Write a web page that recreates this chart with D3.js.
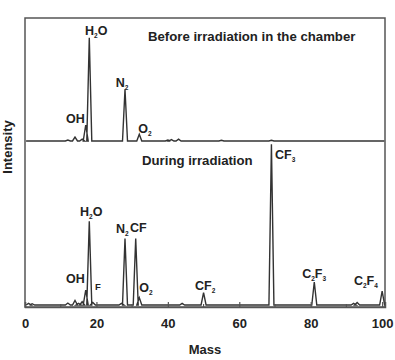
<!DOCTYPE html>
<html>
<head>
<meta charset="utf-8">
<script src="https://cdn.jsdelivr.net/npm/d3@7"></script>
<style>
  body { margin: 0; background: #fff; }
  text { font-family: Arial, "Liberation Sans", sans-serif; font-weight: bold; fill: #222; }
</style>
</head>
<body>
<svg width="395" height="360"></svg>
<script>
// peaks: mass / intensity (intensity in % of the panel height)
var beforeMass  = [12, 14, 16, 17, 18, 28, 32, 40, 41, 43, 55, 69];
var beforeInt   = [0.8, 3.2, 1.5, 13, 84, 42, 5.5, 0.8, 1.2, 1.5, 0.6, 0.6];

var duringMass  = [1, 2, 12, 14, 15, 16, 17, 18, 19, 27, 28, 31, 32, 44, 50, 69, 81, 92, 93, 100];
var duringInt   = [1.0, 0.8, 1.2, 2.8, 1.0, 2.0, 9.0, 51, 1.5, 1.0, 40.5, 40.5, 4.5, 1.0, 7.5, 98, 14, 1.0, 1.5, 8.5];

var xTicks      = [0, 20, 40, 60, 80, 100];
var xMinorTicks = [10, 30, 50, 70, 90];

// peak labels: [text, subscript, tail, tail subscript, mass, intensity]
var beforeLabels = [
  ["H", "2", "O", "", 16.8, 86],
  ["N", "2", "", "",  25.4, 44],
  ["OH", "", "", "",  11.5, 14.6],
  ["O", "2", "", "",  31.7, 6.5]
];
var duringLabels = [
  ["H", "2", "O", "", 15.4, 54.3],
  ["N", "2", "", "",  25.5, 44],
  ["CF", "", "", "",  29.4, 44.5],
  ["OH", "", "", "",  11.5, 13.4],
  ["O", "2", "", "",  32, 7.9],
  ["CF", "2", "", "", 47.6, 9.1],
  ["CF", "3", "", "", 70, 89],
  ["C", "2", "F", "3", 77.6, 16.5],
  ["C", "2", "F", "4", 92.1, 12.2]
];

var svg = d3.select("svg");
var L = 25, R = 385, T = 18, B = 307;

var x = d3.scaleLinear().domain([0, 100.8]).range([L, R]);
var yTop = d3.scaleLinear().domain([0, 100]).range([141, 18]);
var yBot = d3.scaleLinear().domain([0, 100]).range([305, 141]);

function spectrum(masses, ints, y) {
  var pts = [[x(0.3), y(0)]];
  var hw = 0.7;
  masses.forEach(function (m, i) {
    pts.push([x(m - hw), y(0)]);
    pts.push([x(m), y(ints[i])]);
    pts.push([x(m + hw), y(0)]);
  });
  pts.push([x(100.6), y(0)]);
  return d3.line()(pts);
}

// frame
svg.append("rect")
  .attr("x", L).attr("y", T).attr("width", R - L).attr("height", B - T)
  .attr("fill", "none").attr("stroke", "#555").attr("stroke-width", 1.5);

svg.append("path").attr("d", spectrum(beforeMass, beforeInt, yTop))
  .attr("fill", "none").attr("stroke", "#333").attr("stroke-width", 1.4);
svg.append("path").attr("d", spectrum(duringMass, duringInt, yBot))
  .attr("fill", "none").attr("stroke", "#333").attr("stroke-width", 1.4);

// axis
var ax = svg.append("g").attr("transform", "translate(0," + B + ")")
  .call(d3.axisBottom(x).tickValues(xTicks).tickSize(-5).tickPadding(12));
ax.select(".domain").attr("stroke", "#555").attr("stroke-width", 1.5);
ax.selectAll(".tick line").attr("stroke", "#555").attr("stroke-width", 1.2);
ax.selectAll("text").attr("font-size", 13).attr("font-family", "Arial, 'Liberation Sans', sans-serif")
  .attr("font-weight", "bold").attr("fill", "#222");
svg.append("g").selectAll("line").data(xMinorTicks).enter().append("line")
  .attr("x1", function (d) { return x(d); }).attr("x2", function (d) { return x(d); })
  .attr("y1", B).attr("y2", B - 3).attr("stroke", "#555").attr("stroke-width", 1.2);

svg.append("text").attr("x", 205).attr("y", 354).attr("text-anchor", "middle")
  .attr("font-size", 13).text("Mass");
svg.append("text").attr("transform", "translate(12,147) rotate(-90)")
  .attr("text-anchor", "middle").attr("font-size", 13).text("Intensity");

svg.append("text").attr("x", 148).attr("y", 41).attr("font-size", 13.2)
  .text("Before irradiation in the chamber");
svg.append("text").attr("x", 142).attr("y", 165).attr("font-size", 13.2)
  .text("During irradiation");

function addLabels(labels, y) {
  labels.forEach(function (l) {
    var t = svg.append("text").attr("x", x(l[4])).attr("y", y(l[5])).attr("font-size", 12.5);
    t.append("tspan").text(l[0]);
    if (l[1]) t.append("tspan").attr("font-size", 6.5).attr("dy", 3).text(l[1]);
    if (l[2]) t.append("tspan").attr("dy", l[1] ? -3 : 0).text(l[2]);
    if (l[3]) t.append("tspan").attr("font-size", 6.5).attr("dy", 3).text(l[3]);
  });
}
addLabels(beforeLabels, yTop);
addLabels(duringLabels, yBot);

// small "F" label next to the fluorine peak
svg.append("text").attr("x", x(19.6)).attr("y", yBot(9.1)).attr("font-size", 9.5).text("F");
</script>
</body>
</html>
